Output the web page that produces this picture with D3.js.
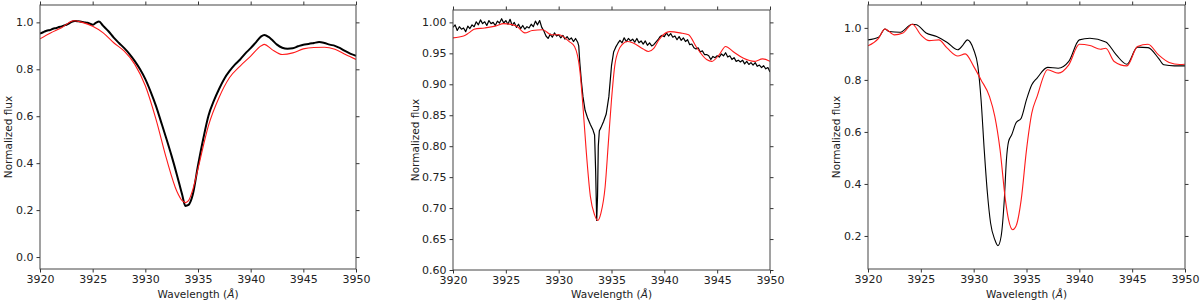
<!DOCTYPE html>
<html>
<head>
<meta charset="utf-8">
<script src="https://cdn.jsdelivr.net/npm/d3@7"></script>
<style>
  body { margin: 0; background: #fff; }
  svg { display: block; }
  text { font-family: "DejaVu Sans", sans-serif; }
</style>
</head>
<body>
<svg id="chart" width="1200" height="305"></svg>
<script>
// wavelength axis, shared by the three panels
const xTicks = [3920, 3925, 3930, 3935, 3940, 3945, 3950];

// panel 1 : observed (black) and model (red), [wavelength, flux]
const obs1 = [
  [3920,0.952],[3920.3,0.958],[3920.5,0.962],[3920.8,0.966],[3921,0.968],[3921.3,0.974],[3921.5,0.975],
  [3921.8,0.980],[3922,0.982],[3922.3,0.987],[3922.5,0.990],[3922.8,0.997],[3923,1.002],[3923.3,1.006],
  [3923.5,1.005],[3923.8,1.004],[3924,1.002],[3924.3,1.000],[3924.5,0.998],[3924.8,0.993],[3925,0.990],
  [3925.3,0.998],[3925.6,1.004],[3926,0.985],[3926.5,0.962],[3927,0.935],[3927.5,0.912],[3928,0.890],
  [3928.5,0.865],[3929,0.835],[3929.5,0.800],[3930,0.758],[3930.5,0.705],[3931,0.645],[3931.5,0.575],
  [3932,0.504],[3932.5,0.430],[3933,0.350],[3933.5,0.265],[3933.8,0.218],[3934.1,0.222],[3934.5,0.265],
  [3935,0.390],[3935.5,0.504],[3936,0.603],[3936.5,0.665],[3937,0.716],[3937.5,0.760],[3938,0.793],
  [3938.5,0.820],[3939,0.842],[3939.5,0.868],[3940,0.890],[3940.5,0.915],[3941,0.940],[3941.3,0.946],
  [3941.7,0.938],[3942,0.927],[3942.5,0.905],[3943,0.892],[3943.5,0.888],[3944,0.890],[3944.5,0.898],
  [3945,0.905],[3945.5,0.908],[3946,0.912],[3946.5,0.916],[3947,0.912],[3947.5,0.905],[3948,0.900],
  [3948.5,0.890],[3949,0.877],[3949.5,0.866],[3950,0.858]
];
const mod1 = [
  [3920,0.930],[3921,0.955],[3922,0.976],[3923.2,1.007],[3924,1.000],[3925,0.983],[3926,0.955],
  [3927,0.913],[3928,0.877],[3929,0.821],[3930,0.730],[3931,0.589],[3932,0.420],[3933,0.279],
  [3933.5,0.240],[3933.8,0.232],[3934.1,0.240],[3934.5,0.286],[3935,0.377],[3936,0.561],[3937,0.680],
  [3938,0.765],[3939,0.814],[3940,0.856],[3941,0.900],[3941.3,0.906],[3942,0.885],[3943,0.863],
  [3944,0.870],[3945,0.887],[3946,0.893],[3947,0.894],[3948,0.885],[3949,0.863],[3950,0.842]
];

// panel 2
const obs2 = [
  [3920,0.992],[3920.2,0.996],[3920.4,0.987],[3920.6,0.993],[3920.8,0.989],[3921,0.991],[3921.2,0.985],
  [3921.4,0.994],[3921.6,0.990],[3921.8,0.996],[3922,0.993],[3922.2,1.001],[3922.4,0.996],[3922.6,1.004],
  [3922.8,0.998],[3923,1.001],[3923.2,0.995],[3923.4,1.003],[3923.6,0.998],[3923.8,1.000],[3924,0.995],
  [3924.2,1.002],[3924.4,0.999],[3924.6,1.006],[3924.8,0.999],[3925,1.003],[3925.2,0.997],[3925.4,1.005],
  [3925.6,0.995],[3925.8,1.000],[3926,0.992],[3926.2,0.997],[3926.4,0.990],[3926.6,0.995],[3926.8,0.989],
  [3927,0.993],[3927.2,0.991],[3927.4,0.997],[3927.6,0.993],[3927.8,1.002],[3928,0.996],[3928.2,1.003],
  [3928.4,0.992],[3928.6,0.986],[3928.8,0.978],[3929,0.974],[3929.2,0.981],[3929.4,0.976],[3929.6,0.983],
  [3929.8,0.978],[3930,0.980],[3930.2,0.975],[3930.4,0.979],[3930.6,0.973],[3930.8,0.977],[3931,0.972],
  [3931.2,0.975],[3931.4,0.969],[3931.6,0.974],[3931.8,0.968],[3931.9,0.962],
  [3932,0.935],[3932.15,0.905],[3932.3,0.880],[3932.5,0.858],[3932.75,0.845],[3933,0.835],[3933.25,0.826],
  [3933.4,0.818],[3933.5,0.760],[3933.6,0.680],[3933.68,0.720],[3933.75,0.800],[3933.85,0.825],[3934,0.830],
  [3934.25,0.840],[3934.5,0.852],[3934.75,0.880],[3934.9,0.910],[3935,0.930],[3935.2,0.952],[3935.4,0.960],
  [3935.6,0.966],[3935.8,0.971],[3936,0.967],[3936.2,0.975],[3936.4,0.969],[3936.6,0.974],[3936.8,0.970],
  [3937,0.973],[3937.2,0.968],[3937.4,0.974],[3937.6,0.967],[3937.8,0.970],[3938,0.965],[3938.2,0.970],
  [3938.4,0.963],[3938.6,0.967],[3938.8,0.962],[3939,0.964],[3939.2,0.968],[3939.4,0.972],[3939.6,0.977],
  [3939.8,0.979],[3940,0.977],[3940.2,0.983],[3940.4,0.978],[3940.6,0.982],[3940.8,0.976],[3941,0.978],
  [3941.2,0.972],[3941.4,0.977],[3941.6,0.971],[3941.8,0.975],[3942,0.969],[3942.2,0.972],[3942.4,0.964],
  [3942.6,0.965],[3942.8,0.959],[3943,0.957],[3943.2,0.959],[3943.4,0.952],[3943.6,0.954],[3943.8,0.948],
  [3944,0.948],[3944.2,0.946],[3944.4,0.940],[3944.6,0.945],[3944.8,0.943],[3945,0.946],[3945.2,0.944],
  [3945.4,0.949],[3945.6,0.946],[3945.8,0.951],[3946,0.944],[3946.2,0.946],[3946.4,0.940],[3946.6,0.943],
  [3946.8,0.937],[3947,0.939],[3947.2,0.936],[3947.4,0.939],[3947.6,0.933],[3947.8,0.937],[3948,0.932],
  [3948.2,0.935],[3948.4,0.931],[3948.6,0.935],[3948.8,0.929],[3949,0.931],[3949.2,0.927],[3949.4,0.930],
  [3949.6,0.925],[3949.8,0.927],[3950,0.920]
];
const mod2 = [
  [3920,0.975],[3921,0.978],[3921.5,0.983],[3922,0.989],[3923,0.991],[3924,0.994],[3924.8,0.998],
  [3926,0.994],[3926.8,0.983],[3927.5,0.987],[3928.5,0.988],[3929.3,0.980],[3930,0.980],[3931,0.969],
  [3931.5,0.961],[3932,0.923],[3932.3,0.864],[3932.6,0.794],[3933,0.719],[3933.4,0.689],[3933.7,0.680],
  [3934,0.692],[3934.4,0.735],[3934.7,0.805],[3935,0.875],[3935.3,0.929],[3935.7,0.956],[3936,0.964],
  [3936.5,0.969],[3937,0.967],[3938,0.957],[3938.5,0.953],[3939,0.958],[3939.5,0.972],[3940.5,0.985],
  [3941.5,0.983],[3942.3,0.980],[3943,0.961],[3944,0.940],[3944.5,0.937],[3945.2,0.948],[3945.8,0.961],
  [3946.5,0.953],[3947.5,0.942],[3948.5,0.937],[3949.3,0.941],[3950,0.937]
];

// panel 3
const obs3 = [
  [3920,0.954],[3921,0.964],[3921.6,0.996],[3922,0.986],[3923,0.983],[3924.2,1.014],[3924.6,1.012],
  [3925.5,0.980],[3926.5,0.967],[3927.5,0.944],[3928.5,0.916],[3929,0.935],[3929.4,0.954],[3930,0.916],
  [3930.4,0.852],[3930.7,0.724],[3931,0.531],[3931.3,0.365],[3931.6,0.250],[3932,0.186],[3932.3,0.163],
  [3932.6,0.199],[3932.9,0.340],[3933.1,0.493],[3933.3,0.563],[3933.6,0.589],[3934,0.634],[3934.5,0.653],
  [3935,0.724],[3935.5,0.781],[3936,0.807],[3937,0.848],[3938,0.845],[3939,0.871],[3940,0.954],
  [3941,0.960],[3942.5,0.946],[3943.5,0.896],[3944.5,0.860],[3945.5,0.926],[3946.5,0.924],[3947.5,0.883],
  [3948,0.858],[3949,0.854],[3950,0.854]
];
const mod3 = [
  [3920,0.931],[3921,0.960],[3921.6,0.996],[3922.5,0.973],[3923.3,0.980],[3924.2,1.014],[3925,0.973],
  [3925.8,0.951],[3926.7,0.954],[3927.5,0.922],[3928.5,0.892],[3929.2,0.900],[3930,0.852],[3930.7,0.800],
  [3931.5,0.736],[3932,0.660],[3932.5,0.531],[3933,0.340],[3933.3,0.263],[3933.7,0.224],[3934,0.237],
  [3934.5,0.340],[3935,0.531],[3935.5,0.672],[3936,0.736],[3937,0.839],[3938,0.826],[3939,0.858],
  [3940,0.937],[3941,0.932],[3942,0.918],[3942.5,0.922],[3943.3,0.871],[3944.5,0.854],[3945.5,0.928],
  [3946.5,0.937],[3947.5,0.896],[3948.5,0.867],[3949.5,0.859],[3950,0.860]
];

const yTicks1 = [0.0, 0.2, 0.4, 0.6, 0.8, 1.0];
const yTicks2 = [0.60, 0.65, 0.70, 0.75, 0.80, 0.85, 0.90, 0.95, 1.00];
const yTicks3 = [0.2, 0.4, 0.6, 0.8, 1.0];

const panels = [
  {left: 40,  right: 356,  top: 5,  bottom: 269, ylim: [-0.051, 1.074], yTicks: yTicks1, fmt: ".1f", ylabelX: 8,   obs: obs1, mod: mod1, obsWidth: 2.0, obsCurve: d3.curveMonotoneX},
  {left: 453, right: 770,  top: 10, bottom: 270, ylim: [0.60, 1.02],    yTicks: yTicks2, fmt: ".2f", ylabelX: 415, obs: obs2, mod: mod2, obsWidth: 1.2, obsCurve: d3.curveLinear},
  {left: 868, right: 1185, top: 5,  bottom: 269, ylim: [0.073, 1.088],  yTicks: yTicks3, fmt: ".1f", ylabelX: 836, obs: obs3, mod: mod3, obsWidth: 1.1, obsCurve: d3.curveMonotoneX}
];

const svg = d3.select("#chart");

function drawPanel(p){
    const x = d3.scaleLinear().domain([3920, 3950]).range([p.left, p.right]);
    const y = d3.scaleLinear().domain(p.ylim).range([p.bottom, p.top]);
    const g = svg.append("g");

    const clipId = "clip" + p.left;
    g.append("clipPath").attr("id", clipId)
        .append("rect")
        .attr("x", p.left).attr("y", p.top)
        .attr("width", p.right - p.left).attr("height", p.bottom - p.top);

    const curves = g.append("g").attr("clip-path", `url(#${clipId})`);
    curves.append("path").datum(p.obs)
        .attr("d", d3.line().x(d => x(d[0])).y(d => y(d[1])).curve(p.obsCurve))
        .attr("fill", "none")
        .attr("stroke", "#000").attr("stroke-width", p.obsWidth)
        .attr("stroke-linejoin", "round");
    curves.append("path").datum(p.mod)
        .attr("d", d3.line().x(d => x(d[0])).y(d => y(d[1])).curve(d3.curveMonotoneX))
        .attr("fill", "none")
        .attr("stroke", "#ff1a1a").attr("stroke-width", 1.1);

    // axes, ticks outward on all sides
    const styleAxis = sel => {
        sel.selectAll(".domain").remove();
        sel.selectAll(".tick line").attr("stroke", "#333");
        sel.selectAll(".tick text").attr("fill", "#222").style("font-size", "11px");
    };
    g.append("g").attr("transform", `translate(0,${p.bottom})`)
        .call(d3.axisBottom(x).tickValues(xTicks).tickSize(3.5).tickPadding(3).tickFormat(d3.format("d")))
        .call(styleAxis);
    g.append("g").attr("transform", `translate(0,${p.top})`)
        .call(d3.axisTop(x).tickValues(xTicks).tickSize(3.5).tickFormat(""))
        .call(styleAxis);
    g.append("g").attr("transform", `translate(${p.left},0)`)
        .call(d3.axisLeft(y).tickValues(p.yTicks).tickSize(3.5).tickPadding(3).tickFormat(d3.format(p.fmt)))
        .call(styleAxis);
    g.append("g").attr("transform", `translate(${p.right},0)`)
        .call(d3.axisRight(y).tickValues(p.yTicks).tickSize(3.5).tickFormat(""))
        .call(styleAxis);

    g.append("rect")
        .attr("x", p.left).attr("y", p.top)
        .attr("width", p.right - p.left).attr("height", p.bottom - p.top)
        .attr("fill", "none").attr("stroke", "#444").attr("stroke-width", 1);

    // labels
    const xl = g.append("text")
        .attr("x", (p.left + p.right) / 2).attr("y", 298)
        .attr("text-anchor", "middle").attr("fill", "#222").style("font-size", "10.5px")
        .text("Wavelength (");
    xl.append("tspan").style("font-style", "italic").text("Å");
    xl.append("tspan").text(")");

    g.append("text")
        .attr("transform", `translate(${p.ylabelX + 4},${(p.top + p.bottom) / 2}) rotate(-90)`)
        .attr("text-anchor", "middle").attr("fill", "#222").style("font-size", "10.5px")
        .text("Normalized flux");
}

panels.forEach(drawPanel);
</script>
</body>
</html>
